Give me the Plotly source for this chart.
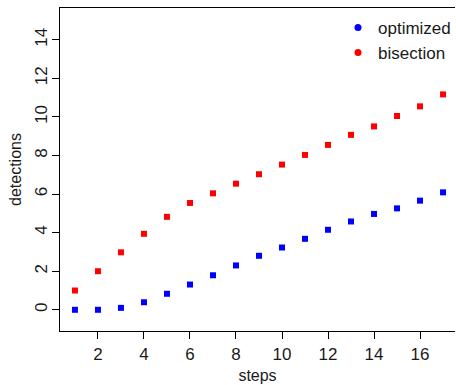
import plotly.graph_objects as go

steps = list(range(1, 18))
optimized = [0.0, 0.0, 0.1, 0.39, 0.83, 1.31, 1.79, 2.3, 2.8, 3.23, 3.68, 4.15, 4.58, 4.97, 5.26, 5.66, 6.09]
bisection = [1.0, 2.0, 2.98, 3.94, 4.82, 5.54, 6.04, 6.54, 7.03, 7.53, 8.03, 8.55, 9.07, 9.51, 10.05, 10.55, 11.17]
x_ticks = [2, 4, 6, 8, 10, 12, 14, 16]
y_ticks = [0, 2, 4, 6, 8, 10, 12, 14]

FONT = "Liberation Sans, Arial, sans-serif"

fig = go.Figure()
fig.add_trace(go.Scatter(x=steps, y=optimized, mode="markers", showlegend=False,
                         marker=dict(symbol="square", size=6, color="#0000FF")))
fig.add_trace(go.Scatter(x=steps, y=bisection, mode="markers", showlegend=False,
                         marker=dict(symbol="square", size=6, color="#FF0000")))
fig.add_trace(go.Scatter(x=[None], y=[None], mode="markers", name="optimized",
                         marker=dict(symbol="circle", size=7, color="#0000FF")))
fig.add_trace(go.Scatter(x=[None], y=[None], mode="markers", name="bisection",
                         marker=dict(symbol="circle", size=7, color="#FF0000")))

fig.update_layout(
    width=456, height=385,
    margin=dict(l=60, r=0, t=8, b=54),
    plot_bgcolor="white", paper_bgcolor="white",
    font=dict(family=FONT, size=17, color="#1a1a1a"),
    showlegend=True,
    legend=dict(x=0.703, y=0.994, xanchor="left", yanchor="top",
                bgcolor="rgba(0,0,0,0)", font=dict(size=17),
                itemwidth=30, tracegroupgap=0, borderwidth=0),
    xaxis=dict(range=[0.35, 17.52], tickvals=x_ticks, ticks="outside", ticklen=7,
               tickcolor="black", showline=True, linecolor="black", linewidth=1.3,
               mirror=True, showgrid=False, zeroline=False, automargin=False,
               tickfont=dict(size=17),
               title=dict(text="steps", standoff=7, font=dict(size=16))),
    yaxis=dict(range=[-1.1, 15.65], tickvals=y_ticks, ticks="outside", ticklen=7,
               tickcolor="black", showline=True, linecolor="black", linewidth=1.3,
               showgrid=False, zeroline=False, tickangle=-90, automargin=False,
               tickfont=dict(size=17), ticklabelstandoff=-2,
               title=dict(text="detections", standoff=6, font=dict(size=16))),
)

fig.write_html("out.html", config={"displayModeBar": False},
               post_script="document.body.style.margin='0';")
